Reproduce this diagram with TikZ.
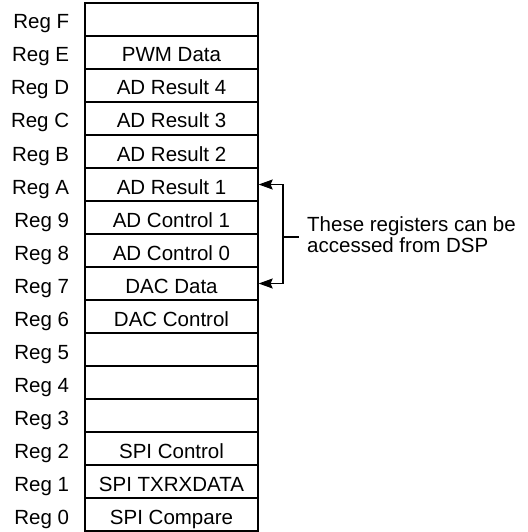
\documentclass[tikz,border=0pt]{standalone}
\usepackage{fontspec}
\setmainfont{Liberation Sans}
\usetikzlibrary{positioning,arrows.meta}
\tikzset{
	regbox/.style = {draw, line width=1.3pt, minimum width=173pt, minimum height=33pt, inner sep=0pt, text height=20pt, text depth=1pt, font=\fontsize{20.5}{22}\selectfont},
	reglabel/.style = {inner sep=0pt, text height=20pt, text depth=1pt, font=\fontsize{20.5}{22}\selectfont},
	note/.style = {align=left, inner xsep=8pt, inner ysep=0pt, font=\fontsize{20.5}{21}\selectfont},
	dsparrow/.style = {line width=1.3pt, -{Stealth[length=14pt,width=10pt,inset=2pt]}},
}
\begin{document}
\begin{tikzpicture}[x=1pt,y=-1pt]
		\useasboundingbox (0,0) rectangle (527,532);
		
		\foreach \id/\txt [count=\k from 0] in {F/{},E/PWM Data,D/AD Result 4,C/AD Result 3,B/AD Result 2,A/AD Result 1,9/AD Control 1,8/AD Control 0,7/DAC Data,6/DAC Control,5/{},4/{},3/{},2/SPI Control,1/SPI TXRXDATA,0/SPI Compare}{
			\node[regbox] (reg\id) at (171.5,19.5+33*\k) {\txt};
			\node[reglabel, left=15pt of reg\id] (lab\id) {Reg \id};
		}
		
		\coordinate (mid) at (283,237);
		\node[note, right=16pt of mid, anchor=west, yshift=2pt] (note) {These registers can be\\accessed from DSP};
		
		\draw[dsparrow] (mid) |- (regA.east);
		\draw[dsparrow] (mid) |- (reg7.east);
		\draw[line width=1.3pt] (mid) -- (mid -| note.west);
	\end{tikzpicture}
\end{document}
